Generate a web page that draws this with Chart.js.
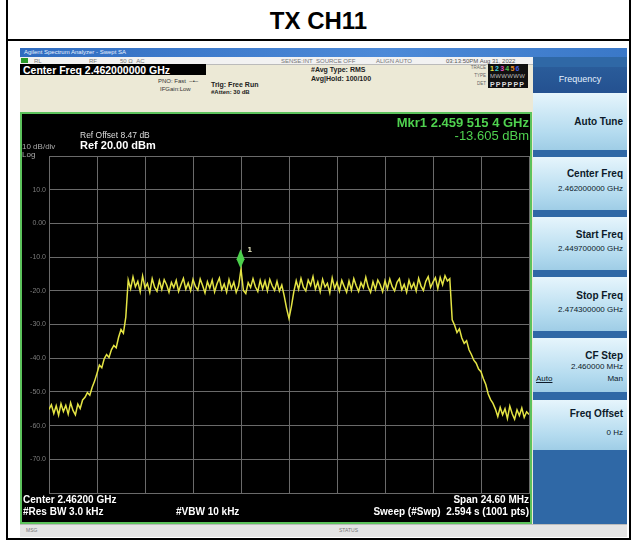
<!DOCTYPE html>
<html>
<head>
<meta charset="utf-8">
<script src="https://cdn.jsdelivr.net/npm/chart.js@4.4.1/dist/chart.umd.min.js"></script>
<style>
  body { margin: 0; background: #fff; font-family: "Liberation Sans", Arial, sans-serif; }
  #page { position: relative; width: 631px; height: 542px; overflow: hidden; }
  .a { position: absolute; white-space: nowrap; line-height: 1; }
  .key { position: absolute; left: 533px; width: 94px; background: linear-gradient(#e6f5fc, #b4dbef 70%, #9fcde6); }
  .kl { position: absolute; right: 4px; font-weight: bold; font-size: 10px; color: #0c1a2a; }
  .kv { position: absolute; right: 4px; font-size: 8px; color: #0c1a2a; }
  .st { position: absolute; top: 58px; font-size: 6px; color: #777; }
  .w { color: #fff; font-weight: bold; }
</style>
</head>
<body>
<div id="page">
  <!-- frame and title -->
  <div class="a" style="left:6px;top:0;width:621px;height:538px;border:2px solid #000;border-top:none;"></div>
  <div class="a" style="left:6px;top:39px;width:625px;height:2px;background:#000;"></div>
  <div class="a" style="left:0;width:637px;top:9px;text-align:center;font-size:24px;font-weight:bold;">TX CH11</div>

  <!-- analyzer window chrome -->
  <div class="a" style="left:20px;top:48px;width:607px;height:488px;background:#ece9d6;"></div>
  <div class="a" style="left:20px;top:48px;width:607px;height:9px;background:linear-gradient(90deg,#2f6cc0,#4d8ad8 60%,#3a78c8);"></div>
  <div class="a" style="left:24px;top:49px;font-size:6px;color:#e8f0ff;">Agilent Spectrum Analyzer - Swept SA</div>
  <div class="a" style="left:20px;top:57px;width:513px;height:7px;background:#f2f2f2;border-bottom:1px solid #bbb;"></div>
  <div class="a" style="left:21px;top:58px;width:7px;height:5px;background:#2a9a2a;"></div>
  <div class="st" style="left:34px;">RL</div>
  <div class="st" style="left:89px;">RF</div>
  <div class="st" style="left:120px;">50 &Omega;&nbsp;&nbsp;AC</div>
  <div class="st" style="left:281px;">SENSE:INT</div>
  <div class="st" style="left:316px;">SOURCE OFF</div>
  <div class="st" style="left:376px;">ALIGN AUTO</div>
  <div class="st" style="left:446px;color:#555;">03:13:50PM Aug 31, 2022</div>

  <div class="a" style="left:20px;top:64px;width:186px;height:11px;background:#000;"></div>
  <div class="a w" style="left:23px;top:65px;font-size:10.5px;">Center Freq 2.462000000 GHz</div>
  <div class="a" style="left:158px;top:78px;font-size:6px;color:#333;">PNO: Fast &nbsp;&#8211;&#8226;&#8211;</div>
  <div class="a" style="left:160px;top:86px;font-size:6px;color:#333;">IFGain:Low</div>
  <div class="a" style="left:211px;top:81px;font-size:7px;font-weight:bold;color:#222;">Trig: Free Run</div>
  <div class="a" style="left:211px;top:89px;font-size:6px;font-weight:bold;color:#222;">#Atten: 30 dB</div>
  <div class="a" style="left:311px;top:66px;font-size:7px;font-weight:bold;color:#222;">#Avg Type: RMS</div>
  <div class="a" style="left:311px;top:75px;font-size:7px;font-weight:bold;color:#222;">Avg|Hold: 100/100</div>
  <div class="a" style="left:462px;top:66px;width:24px;text-align:right;font-size:4.5px;color:#666;">TRACE</div>
  <div class="a" style="left:462px;top:74px;width:24px;text-align:right;font-size:4.5px;color:#666;">TYPE</div>
  <div class="a" style="left:462px;top:82px;width:24px;text-align:right;font-size:4.5px;color:#666;">DET</div>
  <div class="a" style="left:488px;top:64px;width:40px;height:24px;background:#111;"></div>
  <div class="a" style="left:490px;top:65px;font-size:7px;font-weight:bold;letter-spacing:1.2px;">
    <span style="color:#e8e040">1</span><span style="color:#40d0e0">2</span><span style="color:#e050c0">3</span><span style="color:#50c050">4</span><span style="color:#e89030">5</span><span style="color:#4060e0">6</span></div>
  <div class="a" style="left:490px;top:73px;font-size:6px;color:#bbb;letter-spacing:0.3px;">MWWWWW</div>
  <div class="a" style="left:490px;top:81px;font-size:7px;font-weight:bold;color:#ddd;letter-spacing:1.2px;">PPPPPP</div>

  <!-- softkey panel -->
  <div class="a" style="left:533px;top:57px;width:94px;height:467px;background:#2f68a6;"></div>
  <div class="a" style="left:533px;top:67px;width:94px;height:26px;background:linear-gradient(#2a5c9a,#245190);"></div>
  <div class="a" style="left:533px;top:75px;width:94px;text-align:center;font-size:9px;color:#e4f0ff;">Frequency</div>
  <div class="key" style="top:93px;height:57px;"><div class="kl" style="top:23px;">Auto Tune</div></div>
  <div class="key" style="top:157px;height:53px;"><div class="kl" style="top:11px;">Center Freq</div><div class="kv" style="top:27px;">2.462000000 GHz</div></div>
  <div class="key" style="top:217px;height:53px;"><div class="kl" style="top:12px;">Start Freq</div><div class="kv" style="top:27px;">2.449700000 GHz</div></div>
  <div class="key" style="top:277px;height:54px;"><div class="kl" style="top:13px;">Stop Freq</div><div class="kv" style="top:28px;">2.474300000 GHz</div></div>
  <div class="key" style="top:338px;height:54px;"><div class="kl" style="top:12px;">CF Step</div><div class="kv" style="top:24px;">2.460000 MHz</div>
    <div class="kv" style="top:36px;left:3px;right:auto;text-decoration:underline;">Auto</div><div class="kv" style="top:36px;">Man</div></div>
  <div class="key" style="top:400px;height:50px;"><div class="kl" style="top:8px;">Freq Offset</div><div class="kv" style="top:28px;">0 Hz</div></div>

  <!-- status bar -->
  <div class="a" style="left:20px;top:524px;width:607px;height:12px;background:#e4e4e4;border-top:1px solid #bbb;"></div>
  <div class="a" style="left:26px;top:528px;font-size:5px;color:#777;">MSG</div>
  <div class="a" style="left:339px;top:528px;font-size:5px;color:#777;">STATUS</div>

  <!-- trace window -->
  <div class="a" style="left:20px;top:112px;width:512px;height:412px;background:#000;box-sizing:border-box;border:2px solid #5cc25c;"></div>
  <canvas id="trace" class="a" width="509" height="409" style="left:22px;top:114px;"></canvas>

  <div class="a" style="left:80px;top:131px;font-size:8.5px;color:#ddd;">Ref Offset 8.47 dB</div>
  <div class="a w" style="left:80px;top:140px;font-size:11px;">Ref 20.00 dBm</div>
  <div class="a" style="left:22px;top:143px;font-size:8px;color:#aaa;">10 dB/div</div>
  <div class="a" style="left:22px;top:151px;font-size:8px;color:#aaa;">Log</div>
  <div class="a" style="right:102px;top:116px;font-size:13px;font-weight:bold;color:#4fd24f;">Mkr1 2.459 515 4 GHz</div>
  <div class="a" style="right:102px;top:129px;font-size:13px;color:#4fd24f;">-13.605 dBm</div>

  <div class="a w" style="left:23px;top:495px;font-size:10px;">Center 2.46200 GHz</div>
  <div class="a w" style="left:23px;top:507px;font-size:10px;">#Res BW 3.0 kHz</div>
  <div class="a w" style="left:176px;top:507px;font-size:10px;">#VBW 10 kHz</div>
  <div class="a w" style="right:102px;top:495px;font-size:10px;">Span 24.60 MHz</div>
  <div class="a w" style="right:102px;top:507px;font-size:10px;">Sweep (#Swp)&nbsp; 2.594 s (1001 pts)</div>
</div>

<script>
// sweep settings (MHz)
var startFreq = 2449.7;
var stopFreq = 2474.3;
var xTicks = [2449.7, 2452.16, 2454.62, 2457.08, 2459.54, 2462.0, 2464.46, 2466.92, 2469.38, 2471.84, 2474.3];
var yTicks = [20, 10, 0, -10, -20, -30, -40, -50, -60, -70, -80];
var yTickLabels = ['', '10.0', '0.00', '-10.0', '-20.0', '-30.0', '-40.0', '-50.0', '-60.0', '-70.0', ''];

// marker 1
var mkrFreq = 2459.5154;
var mkrLevel = -13.605;

// trace levels in dBm (201 samples across the span)
var traceDbm = [
  -55.2, -53.8, -56.4, -54.1, -56.9, -53.5, -55.8, -54.0, -56.6, -53.2,
  -55.5, -56.8, -53.6, -54.9, -52.4,
  -51.6, -50.2, -51.0, -48.6, -46.8, -44.5, -42.0, -42.8, -40.2, -38.9,
  -39.8, -37.5, -36.2, -36.9, -33.8, -31.5, -32.6, -27.8,
  -16.8, -19.4, -15.9, -18.8, -17.2, -20.3, -15.6, -19.1, -17.8, -20.5,
  -16.4, -18.9, -20.1, -17.0, -19.6, -16.7, -18.2, -20.4, -17.5, -19.0,
  -16.9, -20.2, -18.1, -16.3, -19.5, -17.7, -20.0, -16.6, -18.7, -19.8,
  -16.5, -18.4, -20.6, -17.3, -19.2, -16.8, -20.3, -17.9, -16.2, -19.7,
  -18.0, -20.4, -16.7, -19.3, -17.4, -20.5, -18.6, -13.6, -19.9, -20.8,
  -17.6, -19.0, -16.4, -18.8, -20.2, -16.9, -19.4, -17.1, -20.0, -16.6,
  -18.5, -19.9, -17.2, -20.1, -18.3, -21.5, -25.2, -28.2, -24.6, -20.3,
  -17.0, -19.6, -16.3, -18.9, -20.0, -16.8, -18.4, -15.8, -19.5, -17.4,
  -20.3, -16.6, -18.9, -17.8, -20.6, -16.2, -19.3, -17.5, -20.1, -16.9,
  -18.7, -20.4, -17.1, -19.8, -16.4, -18.5, -20.2, -17.6, -19.1, -16.0,
  -18.9, -20.5, -17.3, -19.6, -16.8, -18.2, -20.3, -17.0, -19.4, -16.5,
  -18.8, -20.0, -17.5, -16.4, -19.7, -18.1, -20.4, -16.9, -19.2, -17.7,
  -20.1, -16.3, -18.6, -19.9, -17.2, -15.8, -19.0, -17.4, -16.1, -19.3,
  -16.0, -18.2, -15.5, -17.1, -16.4,
  -28.6, -30.2, -32.4, -31.3, -34.0, -35.6, -34.8, -37.5, -38.9, -40.6,
  -41.5, -43.2, -44.0, -46.1, -47.8, -50.6, -52.3, -53.4,
  -55.1, -57.3, -54.6, -56.8, -55.0, -57.9, -54.2, -56.5, -58.1, -55.3,
  -57.0, -54.8, -57.6, -55.9, -56.7
];

var points = [];
for (var i in traceDbm) {
  points.push({ x: startFreq + i * (stopFreq - startFreq) / (traceDbm.length - 1), y: traceDbm[i] });
}

// green diamond + "1" above the marker position
var markerPlugin = {
  id: 'marker',
  afterDatasetsDraw: function(chart) {
    var c = chart.ctx;
    var px = chart.scales.x.getPixelForValue(mkrFreq);
    var py = chart.scales.y.getPixelForValue(mkrLevel);
    c.save();
    c.fillStyle = '#4cd04c';
    c.beginPath();
    c.moveTo(px, py - 20);
    c.lineTo(px + 4, py - 10);
    c.lineTo(px, py - 1);
    c.lineTo(px - 4, py - 10);
    c.closePath();
    c.fill();
    c.fillStyle = '#e8e8c0';
    c.font = 'bold 8px "Liberation Sans"';
    c.fillText('1', px + 7, py - 17);
    c.restore();
  }
};

var ctx = document.getElementById('trace');
var traceChart = new Chart(ctx, {
  type: 'line',
  data: {
    datasets: [
      {
        label: 'Trace 1',
        data: points,
        borderColor: '#e4e444',
        borderWidth: 1.5,
        pointRadius: 0,
        tension: 0,
        fill: false
      }
    ]
  },
  options: {
    responsive: false,
    animation: false,
    devicePixelRatio: 1,
    layout: { padding: { top: 42, bottom: 30, right: 2, left: 0 } },
    plugins: { legend: { display: false }, tooltip: { enabled: false } },
    scales: {
      x: {
        type: 'linear',
        min: startFreq,
        max: stopFreq,
        afterBuildTicks: function(axis) { axis.ticks = xTicks.map(function(v) { return { value: v }; }); },
        afterFit: function(axis) { axis.height = 0; },
        ticks: { display: false },
        grid: { color: '#6a6a6a', lineWidth: 1, drawTicks: false },
        border: { color: '#6a6a6a' }
      },
      y: {
        min: -80,
        max: 20,
        afterBuildTicks: function(axis) { axis.ticks = yTicks.map(function(v) { return { value: v }; }); },
        afterFit: function(axis) { axis.width = 27; },
        ticks: {
          color: '#7c7c7c',
          font: { size: 7, family: 'Liberation Sans' },
          padding: 3,
          callback: function(value) { return yTickLabels[yTicks.indexOf(value)]; }
        },
        grid: { color: '#6a6a6a', lineWidth: 1, drawTicks: false },
        border: { color: '#6a6a6a' }
      }
    }
  },
  plugins: [markerPlugin]
});
</script>
</body>
</html>
